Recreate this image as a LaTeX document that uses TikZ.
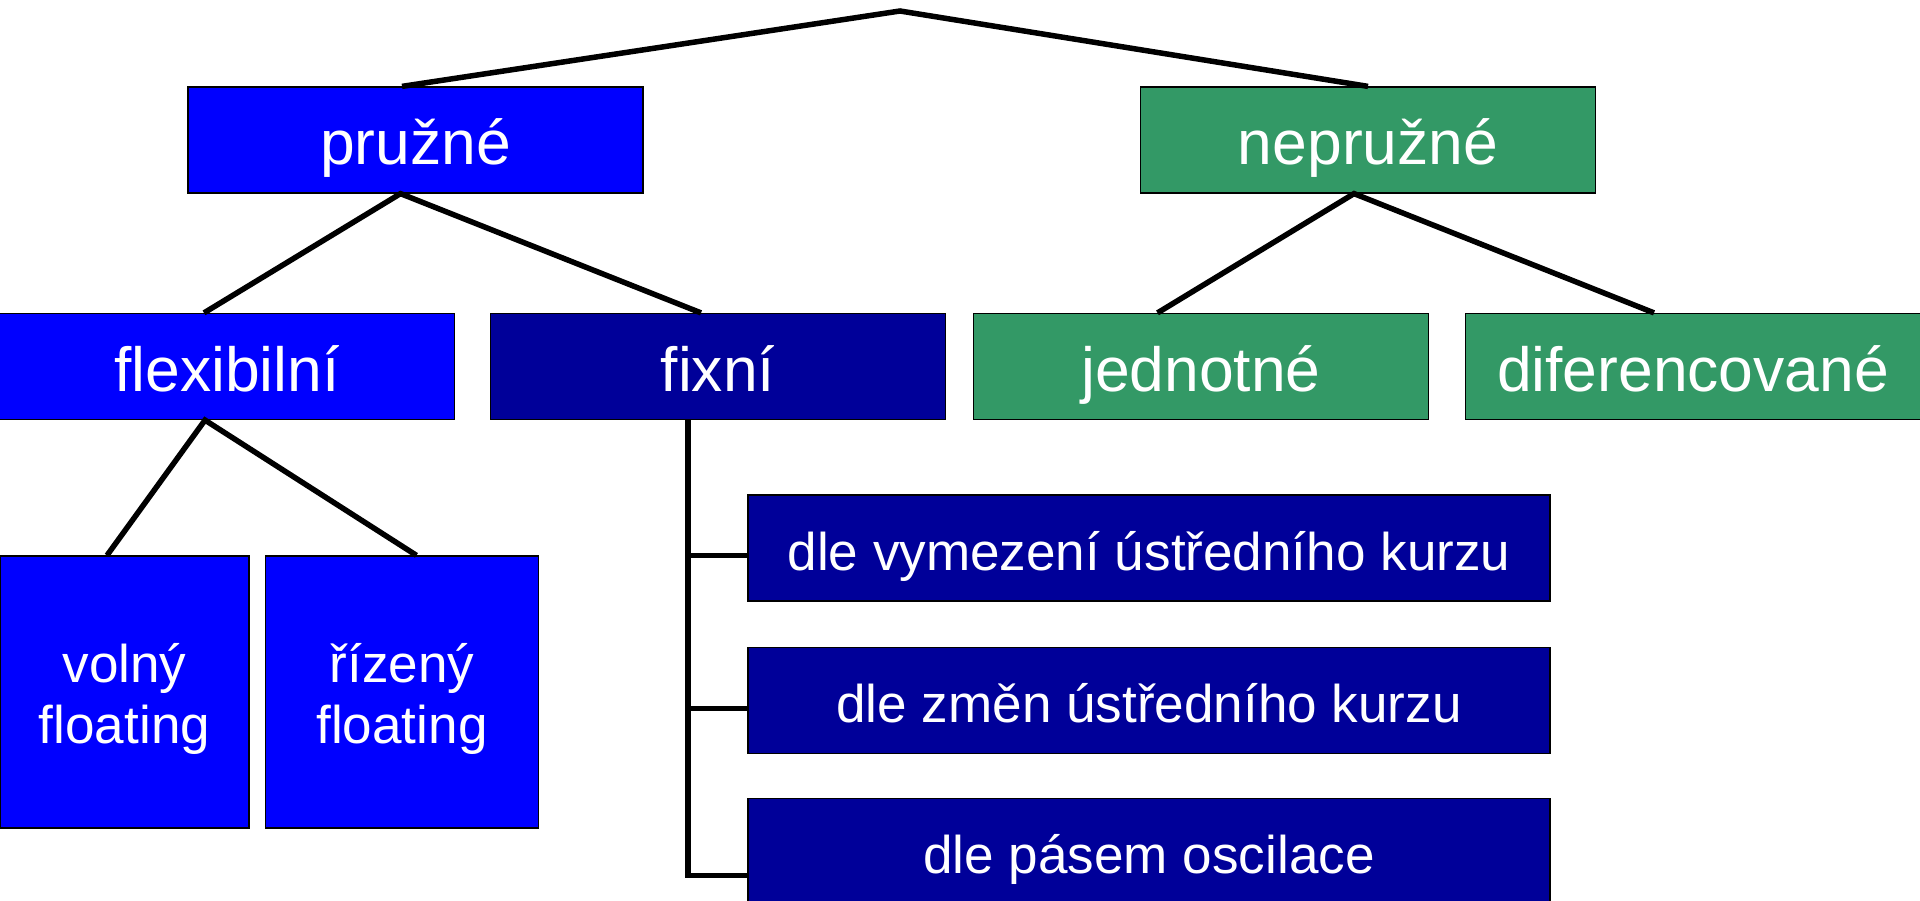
\documentclass[tikz,border=0pt]{standalone}
\usepackage{fontspec}
\setmainfont{Liberation Sans}
\usepackage{xcolor}
\usetikzlibrary{positioning}

\definecolor{pureblue}{HTML}{0000FF}
\definecolor{navyblue}{HTML}{000099}
\definecolor{seagreen}{HTML}{339966}

\begin{document}
\begin{tikzpicture}[
    node distance=0.9cm and 0.31cm,
    bigbox/.style={rectangle, draw=black, line width=0.7pt, inner sep=0pt, minimum width=9.1cm, minimum height=2.12cm, text height=1.0cm, text depth=0pt, align=center, text=white, font=\fontsize{35.5}{40}\selectfont},
    smallbox/.style={rectangle, draw=black, line width=0.7pt, inner sep=0pt, minimum height=2.12cm, text height=0.88cm, text depth=0pt, align=center, text=white, font=\fontsize{30.2}{34.7}\selectfont},
    floatbox/.style={smallbox, fill=pureblue, minimum height=5.44cm, text height=2.04cm},
    conn/.style={line width=0.11cm}
]
\useasboundingbox (0,0) rectangle (38.4,-18.02);

% Level 1
\node (pruzne) [bigbox, fill=pureblue] at (8.31,-2.80) {pružné};
\node (nepruzne) [bigbox, fill=seagreen] at (27.36,-2.80) {nepružné};

% Level 2
\node (flexibilni) [bigbox, fill=pureblue] at (4.54,-7.33) {flexibilní};
\node (fixni) [bigbox, fill=navyblue] at (14.36,-7.33) {fixní};
\node (jednotne) [bigbox, fill=seagreen] at (24.02,-7.33) {jednotné};
\node (diferencovane) [bigbox, fill=seagreen] at (33.86,-7.33) {diferencované};

% Level 3: floating
\node (volny) [floatbox, minimum width=4.98cm] at (2.49,-13.84) {volný\\floating};
\node (rizeny) [floatbox, minimum width=5.45cm, right=of volny] {řízený\\floating};

% Level 3: fixed regimes
\node (dle1) [smallbox, fill=navyblue, minimum width=16.04cm] at (22.98,-10.96) {dle vymezení ústředního kurzu};
\node (dle2) [smallbox, fill=navyblue, minimum width=16.04cm, below=of dle1] {dle změn ústředního kurzu};
\node (dle3) [smallbox, fill=navyblue, minimum width=16.04cm, below=0.88cm of dle2] {dle pásem oscilace};

% Connectors
\coordinate (apex) at (18.0,-0.22);
\draw [conn] ([xshift=-0.27cm]pruzne.north) -- (apex) -- (nepruzne.north);

\draw [conn] ([xshift=-0.46cm]flexibilni.north) -- ([xshift=-0.3cm]pruzne.south) -- ([xshift=-0.34cm]fixni.north);
\draw [conn] ([xshift=-0.87cm]jednotne.north) -- ([xshift=-0.28cm]nepruzne.south) -- ([xshift=-0.78cm]diferencovane.north);
\draw [conn] ([xshift=-0.35cm]volny.north) -- ([xshift=-0.44cm]flexibilni.south) -- ([xshift=0.29cm]rizeny.north);

\coordinate (spine) at ([xshift=-0.6cm]fixni.south);
\draw [conn] (spine) |- ([yshift=-0.48cm]dle3.west);
\draw [conn] ([yshift=-0.15cm]dle1.west) -| (spine);
\draw [conn] ([yshift=-0.17cm]dle2.west) -| (spine);
\end{tikzpicture}
\end{document}
